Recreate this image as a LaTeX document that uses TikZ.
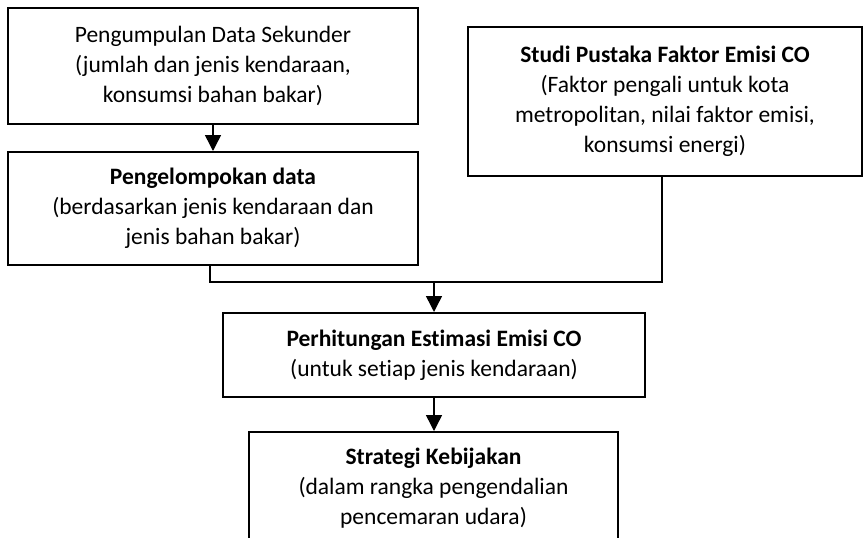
\documentclass[tikz,border=0pt]{standalone}
\usepackage{fontspec}
\setmainfont{Carlito}[Ligatures=NoCommon]
\usetikzlibrary{arrows.meta}
\begin{document}
\begin{tikzpicture}[x=1pt,y=-1pt,
  box/.style={draw=black,line width=2pt,align=center,inner sep=0pt,
    font=\fontsize{23.5}{30}\selectfont,text=black},
  conn/.style={draw=black,line width=1.5pt},
  arr/.style={conn,-{Triangle[length=16pt,width=16pt]}}]
\useasboundingbox (0,0) rectangle (863,538);
\clip (0,0) rectangle (863,538);
\fill[white] (0,0) rectangle (863,538);
\node[box,minimum width=410,minimum height=116] (b1) at (213,66)
  {Pengumpulan Data Sekunder\\(jumlah dan jenis kendaraan,\\konsumsi bahan bakar)};
\node[box,minimum width=410,minimum height=113] (b2) at (213,208.5)
  {\textbf{Pengelompokan data}\\(berdasarkan jenis kendaraan dan\\jenis bahan bakar)};
\node[box,minimum width=394,minimum height=149] (b3) at (665,101.5)
  {\textbf{Studi Pustaka Faktor Emisi CO}\\(Faktor pengali untuk kota\\metropolitan, nilai faktor emisi,\\konsumsi energi)};
\node[box,minimum width=422,minimum height=84] (b4) at (434,355)
  {\textbf{Perhitungan Estimasi Emisi CO}\\(untuk setiap jenis kendaraan)};
\node[box,minimum width=369,minimum height=112] (b5) at (433.5,488)
  {\textbf{Strategi Kebijakan}\\(dalam rangka pengendalian\\pencemaran udara)};
\coordinate (jl) at (210,282);
\coordinate (jr) at (662,282);
\coordinate (jm) at (434,282);
\draw[arr] (b1.south) -- (b2.north);
\draw[conn] (b2.south -| jl) -- (jl) -- (jr) -- (b3.south -| jr);
\draw[arr] (jm) -- (b4.north -| jm);
\draw[arr] (b4.south -| jm) -- (b5.north -| jm);
\end{tikzpicture}
\end{document}
